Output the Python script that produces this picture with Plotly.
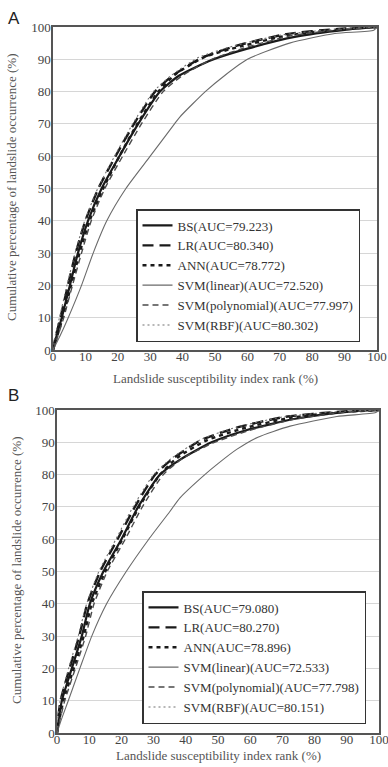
import plotly.graph_objects as go

# ---------------- Data ----------------
labels_A = ["BS(AUC=79.223)", "LR(AUC=80.340)", "ANN(AUC=78.772)",
            "SVM(linear)(AUC=72.520)", "SVM(polynomial)(AUC=77.997)", "SVM(RBF)(AUC=80.302)"]
labels_B = ["BS(AUC=79.080)", "LR(AUC=80.270)", "ANN(AUC=78.896)",
            "SVM(linear)(AUC=72.533)", "SVM(polynomial)(AUC=77.798)", "SVM(RBF)(AUC=80.151)"]

# Panel A
bs_a_x = [0, 1, 2.7, 5.2, 7.7, 10.8, 15, 20.5, 26.3, 33, 39, 49, 60, 75, 90, 100]
bs_a_y = [0, 4, 10, 20, 30, 40, 50, 60, 70, 80, 85, 89.8, 93.3, 97, 99.1, 100]
lr_a_x = [0, 0.8, 2.3, 4.6, 7.0, 10.0, 14.0, 19.3, 25.0, 31.5, 37, 46, 57, 72, 88, 100]
lr_a_y = [0, 4, 10, 20, 30, 40, 50, 60, 70, 80, 85, 90.5, 94.3, 97.8, 99.4, 100]
ann_a_x = [0, 1.2, 3.0, 5.6, 8.2, 11.3, 15.5, 20.5, 26.0, 32.5, 38, 47, 58, 73, 89, 100]
ann_a_y = [0, 4, 10, 20, 30, 40, 50, 60, 70, 80, 85.5, 90.8, 94, 97.5, 99.3, 100]
lin_a_x = [0, 2, 4.7, 8.8, 12.4, 16.6, 22.5, 30, 37.5, 39.2, 47, 53, 60, 73, 87, 99, 100]
lin_a_y = [0, 4, 10, 20, 30, 40, 50, 60, 70, 72.2, 80, 85, 90, 95, 98, 99, 100]
poly_a_x = [0, 1.4, 3.3, 6.0, 8.8, 11.8, 16, 21.5, 27.3, 34, 40, 49, 60, 74, 89, 100]
poly_a_y = [0, 4, 10, 20, 30, 40, 50, 60, 70, 80, 85, 90, 93.8, 97.4, 99.2, 100]
rbf_a_x = [0, 0.6, 2.0, 4.3, 6.8, 9.8, 13.8, 19.0, 24.6, 31, 36.5, 45, 56, 71, 87, 100]
rbf_a_y = [0, 4, 10, 20, 30, 40, 50, 60, 70, 80, 85, 90.6, 94.2, 97.6, 99.3, 100]

# Panel B
bs_b_x = [0, 0.5, 1.5, 4.6, 7.7, 10.2, 14.4, 20, 25.2, 32, 38, 48, 59, 74, 90, 100]
bs_b_y = [0, 4, 10, 20, 30, 40, 50, 60, 70, 80, 84.5, 90, 93.8, 97.3, 99.4, 100]
lr_b_x = [0, 0.3, 1.1, 3.9, 6.9, 9.4, 13.4, 18.8, 24.2, 30.5, 36, 45, 56, 71, 88, 100]
lr_b_y = [0, 4, 10, 20, 30, 40, 50, 60, 70, 80, 85, 90.8, 94.6, 97.9, 99.5, 100]
ann_b_x = [0, 0.7, 2.0, 5.2, 8.3, 10.8, 15, 20.3, 25.5, 32, 37.5, 46.5, 57.5, 72.5, 89, 100]
ann_b_y = [0, 4, 10, 20, 30, 40, 50, 60, 70, 80, 85.3, 90.6, 94.2, 97.6, 99.4, 100]
lin_b_x = [0, 1.3, 3.5, 7.1, 10.8, 15.4, 21.5, 28.5, 35, 38.2, 45.9, 50, 55.8, 62.4, 72.4, 86.9, 99, 100]
lin_b_y = [0, 4, 10, 20, 30, 40, 50, 60, 68.5, 72.8, 80, 83.4, 87.8, 91.6, 95, 98, 99.2, 100]
poly_b_x = [0, 0.9, 2.4, 5.7, 8.9, 11.5, 15.6, 21.2, 26.5, 33, 39, 48.5, 59.5, 74, 89.5, 100]
poly_b_y = [0, 4, 10, 20, 30, 40, 50, 60, 70, 80, 85, 89.8, 93.6, 97.2, 99.3, 100]
rbf_b_x = [0, 0.2, 1.0, 3.6, 6.6, 9.2, 13.0, 18.3, 23.6, 30, 35.5, 44.5, 55.5, 70.5, 87.5, 100]
rbf_b_y = [0, 4, 10, 20, 30, 40, 50, 60, 70, 80, 85, 90.8, 94.6, 97.9, 99.5, 100]

tick_vals = [0, 10, 20, 30, 40, 50, 60, 70, 80, 90, 100]
x_title = "Landslide susceptibility index rank (%)"
y_title = "Cumulative percentage of landslide occurrence (%)"

# ---------------- Styles ----------------
styles = [
    dict(color="#1a1a1a", width=2.2, dash="solid"),
    dict(color="#1a1a1a", width=2.4, dash="11px,6px"),
    dict(color="#1a1a1a", width=2.4, dash="4px,4px"),
    dict(color="#6a6a6a", width=1.1, dash="solid"),
    dict(color="#4a4a4a", width=1.4, dash="6px,4px"),
    dict(color="#707070", width=1.1, dash="2px,3px"),
]

W, H = 388, 767
FONT = "Liberation Serif"

fig = go.Figure()
series_A = [(bs_a_x, bs_a_y), (lr_a_x, lr_a_y), (ann_a_x, ann_a_y),
            (lin_a_x, lin_a_y), (poly_a_x, poly_a_y), (rbf_a_x, rbf_a_y)]
series_B = [(bs_b_x, bs_b_y), (lr_b_x, lr_b_y), (ann_b_x, ann_b_y),
            (lin_b_x, lin_b_y), (poly_b_x, poly_b_y), (rbf_b_x, rbf_b_y)]

for (xs, ys), name, st in zip(series_A, labels_A, styles):
    fig.add_trace(go.Scatter(x=xs, y=ys, mode="lines", name=name,
                             line=dict(shape="spline", smoothing=0.6, **st),
                             xaxis="x", yaxis="y", legend="legend"))
for (xs, ys), name, st in zip(series_B, labels_B, styles):
    fig.add_trace(go.Scatter(x=xs, y=ys, mode="lines", name=name,
                             line=dict(shape="spline", smoothing=0.6, **st),
                             xaxis="x2", yaxis="y2", legend="legend2"))

def xa(domain, anchor):
    return dict(domain=domain, anchor=anchor, range=[0, 100], tickvals=tick_vals,
                showgrid=False, zeroline=False, showline=True, mirror=True,
                linecolor="#555", linewidth=1.5, ticks="", automargin=False,
                ticklabelstandoff=-6, ticklabeloverflow="allow",
                tickfont=dict(family=FONT, size=13, color="#444"))

def ya(domain, anchor):
    return dict(domain=domain, anchor=anchor, range=[0, 100], tickvals=tick_vals,
                showgrid=True, gridcolor="#d6d6d6", gridwidth=1, zeroline=False,
                showline=True, mirror=True, linecolor="#555", linewidth=1.5,
                ticks="", automargin=False, ticklabelstandoff=-2,
                ticklabeloverflow="allow",
                tickfont=dict(family=FONT, size=13, color="#444"))

leg_common = dict(bgcolor="white", bordercolor="#333", borderwidth=1.5,
                  font=dict(family=FONT, size=13, color="#333"),
                  xanchor="left", yanchor="top", tracegroupgap=0, itemwidth=30)

def ann(text, x, y, size, family=FONT, color="#555", angle=0):
    return dict(text=text, x=x / W, y=1 - y / H, xref="paper", yref="paper",
                showarrow=False, xanchor="center", yanchor="middle", textangle=angle,
                font=dict(family=family, size=size, color=color))

fig.update_layout(
    width=W, height=H,
    margin=dict(l=0, r=0, t=0, b=0, autoexpand=False),
    paper_bgcolor="white", plot_bgcolor="white",
    xaxis=xa([53 / W, 377 / W], "y"),
    yaxis=ya([1 - 350 / H, 1 - 27 / H], "x"),
    xaxis2=xa([57 / W, 379 / W], "y2"),
    yaxis2=ya([1 - 733 / H, 1 - 410 / H], "x2"),
    legend=dict(x=136 / W, y=1 - 209 / H, **leg_common),
    legend2=dict(x=142 / W, y=1 - 591 / H, **leg_common),
    annotations=[
        ann("A", 14, 18, 17, family="Liberation Sans", color="#222"),
        ann("B", 14, 395, 17, family="Liberation Sans", color="#222"),
        ann(x_title, 215, 378, 13),
        ann(x_title, 218, 755, 13),
        ann(y_title, 12, 188, 13, angle=-90),
        ann(y_title, 16, 571, 13, angle=-90),
    ],
)

fig.write_html(
    "out.html",
    config={"displayModeBar": False},
    post_script="document.body.style.margin='0';document.body.style.overflow='hidden';",
)
